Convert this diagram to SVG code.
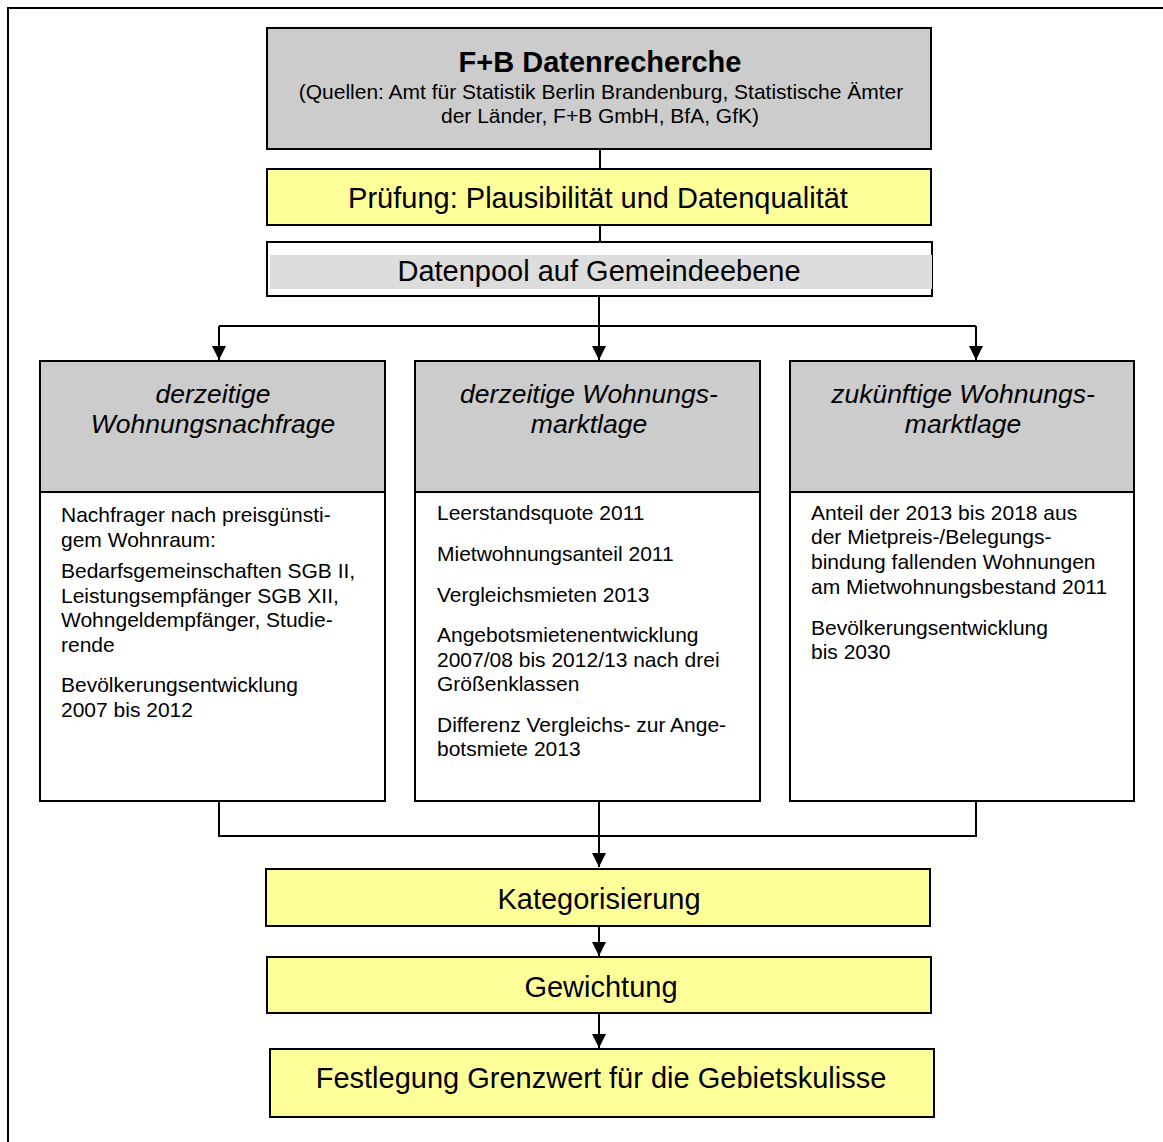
<svg xmlns="http://www.w3.org/2000/svg" width="1163" height="1142" viewBox="0 0 1163 1142">
<defs>
<style>
text{font-family:"Liberation Sans",Arial,sans-serif;fill:#000}
.box{stroke:#000;stroke-width:2}
.grey{fill:#cccccc}
.yellow{fill:#ffff99}
.white{fill:#fff}
.big{font-size:29px;text-anchor:middle}
.head{font-size:26.5px;font-style:italic;text-anchor:middle}
.body{font-size:21px}
.sub{font-size:21px;text-anchor:middle}
.conn{fill:none;stroke:#000;stroke-width:2}
</style>
<marker id="ah" markerWidth="14" markerHeight="15" refX="14" refY="7" orient="auto" markerUnits="userSpaceOnUse" viewBox="0 0 14 14">
<path d="M0,0 L14,7 L0,14 Z" fill="#000"/>
</marker>
</defs>
<rect width="1163" height="1142" fill="#fff"/>
<path d="M8,1142 V8 H1163" fill="none" stroke="#000" stroke-width="2"/>

<g id="connectors">
<path class="conn" d="M600,149 V169"/>
<path class="conn" d="M600,225 V242"/>
<path class="conn" d="M599,296 V360" marker-end="url(#ah)"/>
<path class="conn" d="M219,326 H976"/>
<path class="conn" d="M219,326 V360" marker-end="url(#ah)"/>
<path class="conn" d="M976,326 V360" marker-end="url(#ah)"/>
<path class="conn" d="M219,801 V836 H976 V801"/>
<path class="conn" d="M599,801 V867" marker-end="url(#ah)"/>
<path class="conn" d="M599,926 V956" marker-end="url(#ah)"/>
<path class="conn" d="M599,1013 V1048" marker-end="url(#ah)"/>
</g>

<g id="datenrecherche">
<rect class="box grey" x="267" y="28" width="664" height="121"/>
<text x="600" y="72" font-size="29" font-weight="bold" text-anchor="middle">F+B Datenrecherche</text>
<text class="sub" x="601" y="99">(Quellen: Amt für Statistik Berlin Brandenburg, Statistische Ämter</text>
<text class="sub" x="600" y="123">der Länder, F+B GmbH, BfA, GfK)</text>
</g>

<g id="pruefung">
<rect class="box yellow" x="267" y="169" width="664" height="56"/>
<text class="big" x="598" y="208">Prüfung: Plausibilität und Datenqualität</text>
</g>

<g id="datenpool">
<rect class="box white" x="267" y="242" width="665" height="54"/>
<rect x="270" y="255" width="662" height="34" fill="#dddddd"/>
<text class="big" x="599" y="281">Datenpool auf Gemeindeebene</text>
</g>

<g id="nachfrage">
<rect class="box grey" x="40" y="361" width="345" height="131"/>
<rect class="box white" x="40" y="492" width="345" height="309"/>
<text class="head" x="213" y="403">derzeitige</text>
<text class="head" x="213" y="433">Wohnungsnachfrage</text>
<text class="body" x="61" y="522">Nachfrager nach preisgünsti-</text>
<text class="body" x="61" y="547">gem Wohnraum:</text>
<text class="body" x="61" y="578">Bedarfsgemeinschaften SGB II,</text>
<text class="body" x="61" y="603">Leistungsempfänger SGB XII,</text>
<text class="body" x="61" y="627">Wohngeldempfänger, Studie-</text>
<text class="body" x="61" y="652">rende</text>
<text class="body" x="61" y="692">Bevölkerungsentwicklung</text>
<text class="body" x="61" y="717">2007 bis 2012</text>
</g>

<g id="marktlage">
<rect class="box grey" x="415" y="361" width="345" height="131"/>
<rect class="box white" x="415" y="492" width="345" height="309"/>
<text class="head" x="589" y="403">derzeitige Wohnungs-</text>
<text class="head" x="589" y="433">marktlage</text>
<text class="body" x="437" y="520">Leerstandsquote 2011</text>
<text class="body" x="437" y="561">Mietwohnungsanteil 2011</text>
<text class="body" x="437" y="602">Vergleichsmieten 2013</text>
<text class="body" x="437" y="642">Angebotsmietenentwicklung</text>
<text class="body" x="437" y="667">2007/08 bis 2012/13 nach drei</text>
<text class="body" x="437" y="691">Größenklassen</text>
<text class="body" x="437" y="732">Differenz Vergleichs- zur Ange-</text>
<text class="body" x="437" y="756">botsmiete 2013</text>
</g>

<g id="zukunft">
<rect class="box grey" x="790" y="361" width="344" height="131"/>
<rect class="box white" x="790" y="492" width="344" height="309"/>
<text class="head" x="963" y="403">zukünftige Wohnungs-</text>
<text class="head" x="963" y="433">marktlage</text>
<text class="body" x="811" y="520">Anteil der 2013 bis 2018 aus</text>
<text class="body" x="811" y="544">der Mietpreis-/Belegungs-</text>
<text class="body" x="811" y="569">bindung fallenden Wohnungen</text>
<text class="body" x="811" y="594">am Mietwohnungsbestand 2011</text>
<text class="body" x="811" y="635">Bevölkerungsentwicklung</text>
<text class="body" x="811" y="659">bis 2030</text>
</g>

<g id="kategorisierung">
<rect class="box yellow" x="266" y="869" width="664" height="57"/>
<text class="big" x="599" y="909">Kategorisierung</text>
</g>

<g id="gewichtung">
<rect class="box yellow" x="267" y="957" width="664" height="56"/>
<text class="big" x="601" y="997">Gewichtung</text>
</g>

<g id="festlegung">
<rect class="box yellow" x="270" y="1049" width="664" height="68"/>
<text class="big" x="601" y="1088">Festlegung Grenzwert für die Gebietskulisse</text>
</g>
</svg>
